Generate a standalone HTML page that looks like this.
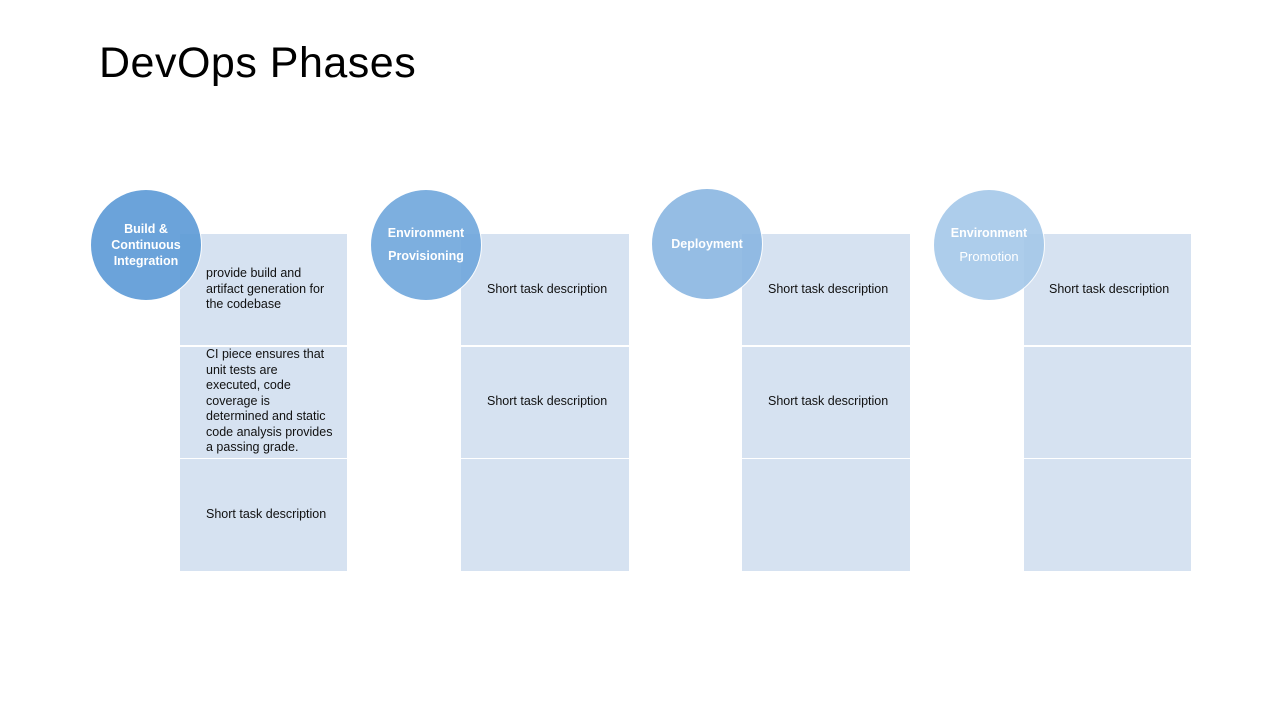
<!DOCTYPE html>
<html><head><meta charset="utf-8"><style>
body{margin:0;width:1280px;height:720px;background:#fff;position:relative;overflow:hidden;font-family:"Liberation Sans",sans-serif}
.t{position:absolute;left:99px;top:39px;font-size:43px;color:#000;letter-spacing:0.5px}
.r{position:absolute;width:167px;height:111px;background:#d6e2f1}
.c{position:absolute;width:112px;height:112px;border-radius:50%;border:1px solid #fff;box-sizing:border-box;display:flex;align-items:center;justify-content:center;text-align:center;color:#fff;font-weight:bold;font-size:12.5px;line-height:16px;opacity:.9}
.x{position:absolute;font-size:12.5px;line-height:15.5px;color:#111}
</style></head><body>
<div class="t">DevOps Phases</div>

<div class="r" style="left:180px;top:234px"></div><div class="r" style="left:180px;top:347px"></div><div class="r" style="left:180px;top:459px;height:112px"></div>
<div class="r" style="left:461px;top:234px;width:168px"></div><div class="r" style="left:461px;top:347px;width:168px"></div><div class="r" style="left:461px;top:459px;width:168px;height:112px"></div>
<div class="r" style="left:742px;top:234px;width:168px"></div><div class="r" style="left:742px;top:347px;width:168px"></div><div class="r" style="left:742px;top:459px;width:168px;height:112px"></div>
<div class="r" style="left:1024px;top:234px"></div><div class="r" style="left:1024px;top:347px"></div><div class="r" style="left:1024px;top:459px;height:112px"></div>

<div class="c" style="left:90px;top:189px;background:#5c9ad6"><div>Build &amp;<br>Continuous<br>Integration</div></div>
<div class="c" style="left:370px;top:189px;background:#70a7dc;line-height:23px"><div>Environment<br>Provisioning</div></div>
<div class="c" style="left:651px;top:188px;background:#8ab6e2"><div>Deployment</div></div>
<div class="c" style="left:933px;top:189px;background:#a5c8e9;line-height:23px"><div>Environment<br><span style="font-weight:normal;font-size:13px">Promotion</span></div></div>

<div class="x" style="left:206px;top:266px">provide build and<br>artifact generation for<br>the codebase</div>
<div class="x" style="left:206px;top:347px">CI piece ensures that<br>unit tests are<br>executed, code<br>coverage is<br>determined and static<br>code analysis provides<br>a passing grade.</div>
<div class="x" style="left:206px;top:507px">Short task description</div>
<div class="x" style="left:487px;top:282px">Short task description</div>
<div class="x" style="left:487px;top:394px">Short task description</div>
<div class="x" style="left:768px;top:282px">Short task description</div>
<div class="x" style="left:768px;top:394px">Short task description</div>
<div class="x" style="left:1049px;top:282px">Short task description</div>
</body></html>
